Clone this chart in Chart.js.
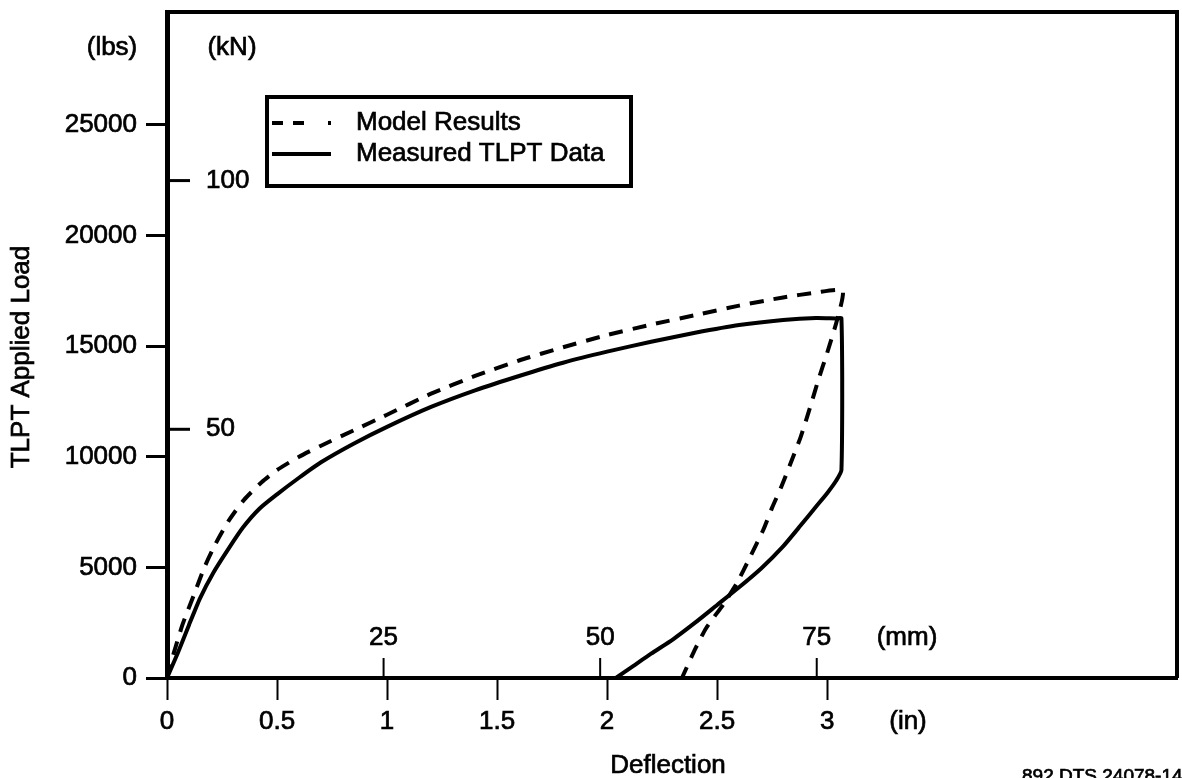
<!DOCTYPE html>
<html>
<head>
<meta charset="utf-8">
<title>TLPT Applied Load vs Deflection</title>
<script src="https://cdn.jsdelivr.net/npm/chart.js@4/dist/chart.umd.min.js"></script>
<style>
  html, body { margin: 0; padding: 0; background: #fff; }
  #wrap { width: 1182px; height: 778px; position: relative; }
</style>
</head>
<body>
<div id="wrap"><canvas id="chart" width="1182" height="778"></canvas></div>
<script>
// deflection (in) / load (lbs)
const modelLoadIn   = [0, 0.03, 0.07, 0.12, 0.17, 0.22, 0.28, 0.35, 0.43, 0.5, 0.6, 0.7, 0.85, 1.0, 1.2, 1.4, 1.6, 1.8, 2.0, 2.2, 2.4, 2.6, 2.8, 2.95, 3.07];
const modelLoadLbs  = [0, 1100, 2400, 3700, 5000, 6050, 7100, 8050, 8850, 9400, 10000, 10500, 11200, 11900, 12850, 13650, 14350, 14950, 15500, 15970, 16400, 16830, 17200, 17420, 17500];
const modelUnloadIn  = [3.045, 3.0, 2.96, 2.92, 2.88, 2.83, 2.79, 2.75, 2.71, 2.65, 2.59, 2.53, 2.45, 2.40, 2.34];
const modelUnloadLbs = [16180, 14690, 13470, 12150, 10900, 9600, 8600, 7700, 6700, 5470, 4290, 3350, 2250, 1300, 0];

const measLoadIn   = [0, 0.05, 0.1, 0.15, 0.21, 0.28, 0.345, 0.42, 0.5, 0.6, 0.7, 0.85, 1.0, 1.2, 1.4, 1.6, 1.8, 2.0, 2.2, 2.4, 2.6, 2.8, 2.95, 3.04, 3.065];
const measLoadLbs  = [0, 1150, 2400, 3600, 4750, 5850, 6800, 7650, 8300, 9050, 9750, 10600, 11350, 12250, 13000, 13650, 14250, 14750, 15200, 15600, 15950, 16180, 16270, 16250, 16250];
const measUnloadIn  = [3.065, 3.04, 3.0, 2.95, 2.88, 2.8, 2.7, 2.6, 2.5, 2.4, 2.3, 2.2, 2.12, 2.04];
const measUnloadLbs = [9400, 8900, 8350, 7750, 6900, 5950, 4950, 4100, 3300, 2500, 1750, 1100, 550, 0];

const lbsTicks = [0, 5000, 10000, 15000, 20000, 25000];
const kNTicks  = [50, 100];
const inTicks  = [0, 0.5, 1, 1.5, 2, 2.5, 3];
const mmTicks  = [25, 50, 75];

const LBS_PER_KN = 224.809;
const MM_PER_IN = 25.4;

const FONT = '"Liberation Sans", Arial, Helvetica, sans-serif';
const DASH = [14, 10];
const INK = 0.7; // extra stroke on text so it reads as heavy as the print

function toPoints(xs, ys){
  return xs.map((x, i) => ({ x: x, y: ys[i] }));
}

const modelPts = toPoints(modelLoadIn.concat(modelUnloadIn), modelLoadLbs.concat(modelUnloadLbs));
const measPts  = toPoints(measLoadIn.concat(measUnloadIn), measLoadLbs.concat(measUnloadLbs));

function text(ctx, str, x, y, size, align, baseline){
  ctx.font = size + 'px ' + FONT;
  ctx.textAlign = align || 'center';
  ctx.textBaseline = baseline || 'middle';
  ctx.lineWidth = INK;
  ctx.setLineDash([]);
  ctx.strokeText(str, x, y);
  ctx.fillText(str, x, y);
}

// frame, secondary unit ticks, titles and legend
const extras = {
  id: 'extras',
  afterDraw(chart){
    const ctx = chart.ctx;
    const a = chart.chartArea;
    const xs = chart.scales.x, ys = chart.scales.y;
    ctx.save();
    ctx.strokeStyle = '#000';
    ctx.fillStyle = '#000';

    // top + right edges of the frame
    ctx.lineWidth = 4;
    ctx.beginPath();
    ctx.moveTo(a.left, a.top);
    ctx.lineTo(a.right, a.top);
    ctx.lineTo(a.right, a.bottom);
    ctx.stroke();

    // kN ticks on the inside of the left axis
    kNTicks.forEach(kn => {
      const py = ys.getPixelForValue(kn * LBS_PER_KN);
      ctx.lineWidth = 3;
      ctx.beginPath();
      ctx.moveTo(a.left, py);
      ctx.lineTo(a.left + 23, py);
      ctx.stroke();
      text(ctx, String(kn), a.left + 39, py, 26, 'left');
    });

    // mm ticks on the inside of the bottom axis
    mmTicks.forEach(mm => {
      const px = xs.getPixelForValue(mm / MM_PER_IN);
      ctx.lineWidth = 2;
      ctx.beginPath();
      ctx.moveTo(px, a.bottom);
      ctx.lineTo(px, a.bottom - 20);
      ctx.stroke();
      text(ctx, String(mm), px, a.bottom - 40, 26);
    });

    // unit labels
    text(ctx, '(lbs)', 112, 48, 26);
    text(ctx, '(kN)', 232, 48, 26);
    text(ctx, '(mm)', 907, a.bottom - 40, 26);
    text(ctx, '(in)', 908, a.bottom + 44, 26);

    // axis titles
    text(ctx, 'Deflection', 668, 766, 26);
    ctx.save();
    ctx.translate(22, 357);
    ctx.rotate(-Math.PI / 2);
    text(ctx, 'TLPT Applied Load', 0, 0, 26);
    ctx.restore();

    // legend box
    const lx = 267, ly = 97, lw = 364, lh = 89;
    ctx.lineWidth = 4;
    ctx.strokeRect(lx, ly, lw, lh);
    const rows = [
      { ds: chart.data.datasets[0], y: 123, dash: [11, 10, 11, 24, 3, 99] },
      { ds: chart.data.datasets[1], y: 154, dash: [] }
    ];
    rows.forEach(r => {
      ctx.lineWidth = 4;
      ctx.setLineDash(r.dash);
      ctx.beginPath();
      ctx.moveTo(272, r.y);
      ctx.lineTo(331, r.y);
      ctx.stroke();
      text(ctx, r.ds.label, 356, r.y, 26, 'left');
    });

    // drawing number, runs off the lower edge
    text(ctx, '892 DTS 24078-14', 1022, 782, 19, 'left', 'alphabetic');

    ctx.restore();
  }
};

new Chart(document.getElementById('chart'), {
  type: 'scatter',
  data: {
    datasets: [
      {
        label: 'Model Results',
        data: modelPts,
        showLine: true,
        borderColor: '#000',
        borderWidth: 4,
        borderDash: DASH,
        borderJoinStyle: 'miter',
        pointRadius: 0,
        tension: 0.2
      },
      {
        label: 'Measured TLPT Data',
        data: measPts,
        showLine: true,
        borderColor: '#000',
        borderWidth: 4,
        borderJoinStyle: 'miter',
        pointRadius: 0,
        tension: 0.2
      }
    ]
  },
  options: {
    responsive: false,
    animation: false,
    layout: { padding: { top: 12, right: 5, left: 0, bottom: 0 } },
    plugins: {
      legend: { display: false },
      tooltip: { enabled: false }
    },
    scales: {
      x: {
        type: 'linear',
        min: 0,
        max: 4.59,
        afterFit(s){ s.height = 100; s.paddingLeft = 0; s.paddingRight = 0; },
        afterBuildTicks(s){ s.ticks = inTicks.map(v => ({ value: v })); },
        ticks: {
          color: '#000',
          font: { family: FONT, size: 26 },
          textStrokeColor: '#000',
          textStrokeWidth: INK,
          padding: 6,
          maxRotation: 0,
          autoSkip: false,
          callback: v => String(v)
        },
        grid: { drawOnChartArea: false, drawTicks: true, tickLength: 22, tickWidth: 2, tickColor: '#000' },
        border: { display: true, color: '#000', width: 4 }
      },
      y: {
        type: 'linear',
        min: 0,
        max: 30100,
        afterFit(s){ s.width = 167; s.paddingTop = 0; s.paddingBottom = 0; },
        afterBuildTicks(s){ s.ticks = lbsTicks.map(v => ({ value: v })); },
        ticks: {
          color: '#000',
          font: { family: FONT, size: 26 },
          textStrokeColor: '#000',
          textStrokeWidth: INK,
          padding: 9,
          autoSkip: false,
          callback: v => String(v)
        },
        grid: { drawOnChartArea: false, drawTicks: true, tickLength: 21, tickWidth: 3, tickColor: '#000' },
        border: { display: true, color: '#000', width: 5 }
      }
    }
  },
  plugins: [extras]
});
</script>
</body>
</html>
